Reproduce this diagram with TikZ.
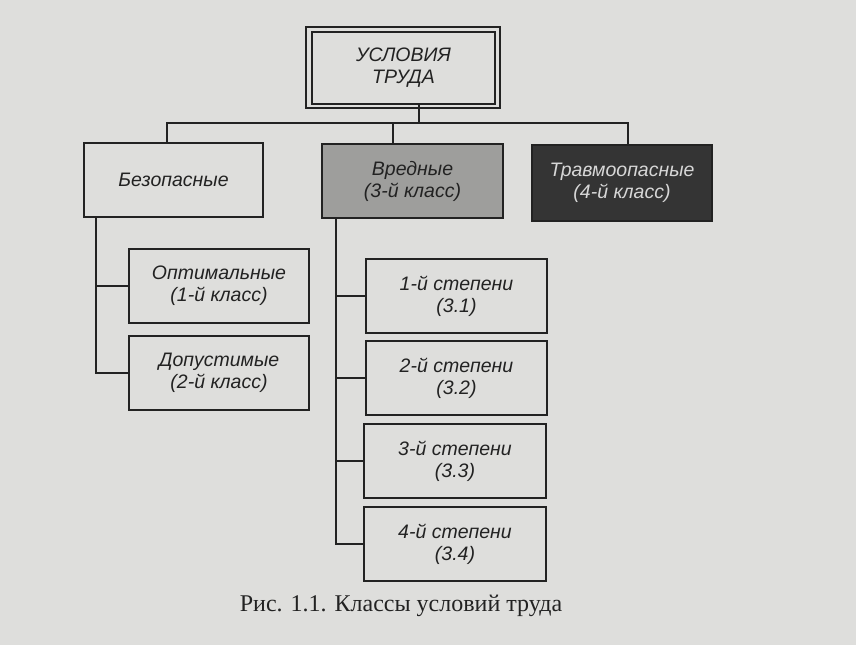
\documentclass[tikz,border=0pt]{standalone}
\usepackage{fontspec}
\setmainfont{Liberation Serif}
\newfontfamily\boxfont{Liberation Sans}
\definecolor{paper}{RGB}{222,222,220}
\definecolor{ink}{RGB}{34,34,34}
\definecolor{midgray}{RGB}{158,158,156}
\definecolor{darkbox}{RGB}{52,52,52}
\definecolor{lighttext}{RGB}{215,215,215}
\tikzset{
  box/.style={draw=ink, line width=1.6pt, fill=paper, align=center, text=ink,
    font=\boxfont\itshape\fontsize{19.5}{22}\selectfont, inner sep=0pt},
  conn/.style={draw=ink, line width=1.6pt},
}
\begin{document}
\begin{tikzpicture}[x=1pt,y=-1pt]
\fill[paper] (0,0) rectangle (856,645);
\useasboundingbox (0,0) rectangle (856,645);
% top double box
\draw[ink, line width=1.2pt] (306,27) rectangle (500,108);
\node[box, line width=2.4pt, minimum width=183pt, minimum height=72pt] (top) at (403.5,68) {УСЛОВИЯ\\ТРУДА};
% first level
\node[box, minimum width=179pt, minimum height=74pt] (bez) at (173.5,180) {Безопасные};
\node[box, fill=midgray, minimum width=181pt, minimum height=74pt] (vred) at (412.5,181) {Вредные\\(3-й класс)};
\node[box, fill=darkbox, text=lighttext, minimum width=180pt, minimum height=76pt] (trav) at (622,183) {Травмоопасные\\(4-й класс)};
% second level left
\node[box, minimum width=180pt, minimum height=74pt] (opt) at (219,286) {Оптимальные\\(1-й класс)};
\node[box, minimum width=180pt, minimum height=74pt] (dop) at (219,373) {Допустимые\\(2-й класс)};
% second level right
\node[box, minimum width=181pt, minimum height=74pt] (s1) at (456.5,296) {1-й степени\\(3.1)};
\node[box, minimum width=181pt, minimum height=74pt] (s2) at (456.5,378) {2-й степени\\(3.2)};
\node[box, minimum width=182pt, minimum height=74pt] (s3) at (455,461) {3-й степени\\(3.3)};
\node[box, minimum width=182pt, minimum height=74pt] (s4) at (455,544) {4-й степени\\(3.4)};
% bus coordinates
\coordinate (tstem) at (419,123);
\coordinate (bstem) at (167,123);
\coordinate (vstem) at (393,123);
\coordinate (rstem) at (628,123);
\draw[conn] (tstem |- top.south) -- (tstem);
\draw[conn] (bstem |- bez.north) -- (bstem) -- (rstem) -- (rstem |- trav.north);
\draw[conn] (vstem) -- (vstem |- vred.north);
% left branch
\coordinate (lx) at (96,370);
\draw[conn] (lx |- bez.south) -- (lx |- dop.west) -- (dop.west);
\draw[conn] (lx |- opt.west) -- (opt.west);
% right branch
\coordinate (rx) at (336,543);
\draw[conn] (rx |- vred.south) -- (rx |- s4.west) -- (s4.west);
\draw[conn] (rx |- s1.west) -- (s1.west);
\draw[conn] (rx |- s2.west) -- (s2.west);
\draw[conn] (rx |- s3.west) -- (s3.west);
% caption
\node[text=ink, font=\fontsize{24}{28}\selectfont, inner sep=0pt] (cap) at (401,606) {Рис. 1.1. Классы условий труда};
\end{tikzpicture}
\end{document}
